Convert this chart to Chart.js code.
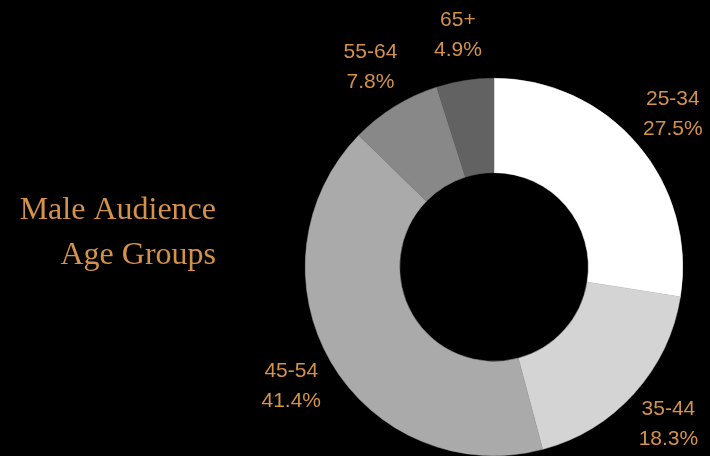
<!DOCTYPE html>
<html>
<head>
<meta charset="utf-8">
<script src="https://cdn.jsdelivr.net/npm/chart.js@4"></script>
<style>
html,body{margin:0;padding:0;background:#000;}
#wrap{position:relative;width:710px;height:456px;}
</style>
</head>
<body>
<div id="wrap"><canvas id="c" width="710" height="456"></canvas></div>
<script>
const categories = ["25-34", "35-44", "45-54", "55-64", "65+"];
const values = [27.5, 18.3, 41.4, 7.8, 4.9];
const percentLabels = ["27.5%", "18.3%", "41.4%", "7.8%", "4.9%"];
const titleLines = ["Male Audience", "Age Groups"];
const sliceColors = ["#ffffff", "#d4d4d4", "#aaaaaa", "#888888", "#626262"];
const textColor = "#d4924a";

const labelPlugin = {
  id: 'outLabels',
  afterDatasetsDraw(chart) {
    const ctx = chart.ctx;
    const meta = chart.getDatasetMeta(0);
    ctx.save();
    ctx.fillStyle = textColor;
    ctx.font = '21px "Liberation Sans", Arial, sans-serif';
    ctx.textAlign = 'center';
    ctx.textBaseline = 'middle';
    meta.data.forEach((arc, i) => {
      const p = arc.getProps(['x','y','startAngle','endAngle','outerRadius'], true);
      const mid = (p.startAngle + p.endAngle) / 2;
      const r = p.outerRadius * 1.245;
      const cx = p.x + Math.cos(mid) * r;
      const cy = p.y + Math.sin(mid) * r;
      ctx.fillText(categories[i], cx, cy - 15);
      ctx.fillText(percentLabels[i], cx, cy + 15);
    });
    ctx.font = '32px "Liberation Serif", "Times New Roman", serif';
    ctx.textAlign = 'right';
    ctx.textBaseline = 'alphabetic';
    ctx.fillText(titleLines[0], 216, 219);
    ctx.fillText(titleLines[1], 216, 264);
    ctx.restore();
  }
};

new Chart(document.getElementById('c'), {
  type: 'doughnut',
  data: {
    labels: categories,
    datasets: [{
      data: values,
      backgroundColor: sliceColors,
      borderColor: sliceColors,
      borderWidth: 0.5
    }]
  },
  options: {
    responsive: false,
    animation: false,
    cutout: '50%',
    layout: { padding: { top: 78, bottom: 0, left: 278, right: 0 } },
    plugins: { legend: { display: false }, tooltip: { enabled: false } }
  },
  plugins: [labelPlugin]
});
</script>
</body>
</html>
